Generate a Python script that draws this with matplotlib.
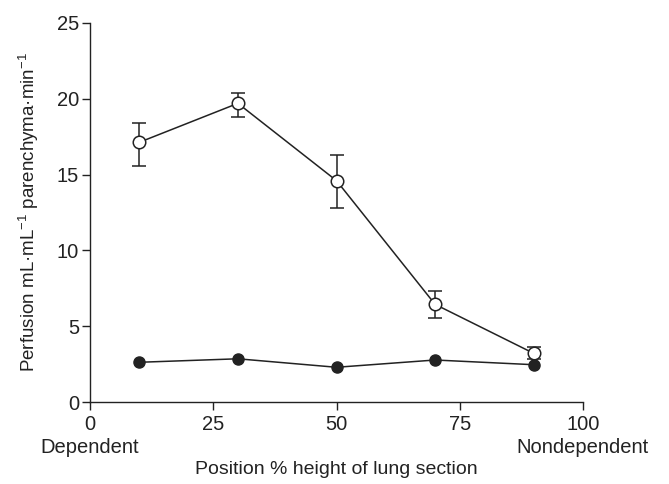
import matplotlib
matplotlib.use("Agg")
import matplotlib.pyplot as plt

plt.rcParams['font.family'] = ['Liberation Sans', 'DejaVu Sans']

x = [10, 30, 50, 70, 90]
open_vals = [17.13, 19.70, 14.60, 6.44, 3.21]
open_lo = [15.57, 18.82, 12.78, 5.52, 2.85]
open_hi = [18.42, 20.36, 16.29, 7.32, 3.60]
filled_vals = [2.62, 2.85, 2.29, 2.77, 2.46]
xticks = [0, 25, 50, 75, 100]
xticklabels = ['0\nDependent', '25', '50', '75', '100\nNondependent']
yticks = [0, 5, 10, 15, 20, 25]

fig = plt.figure(figsize=(6.69, 4.84), dpi=100)
ax = fig.add_axes([90 / 669, 82 / 484, 493 / 669, 379 / 484])

yerr = [[v - l for v, l in zip(open_vals, open_lo)], [h - v for v, h in zip(open_vals, open_hi)]]
ax.errorbar(x, open_vals, yerr=yerr, fmt='o-', color='#222222', mfc='white', mec='#222222',
            ms=9, mew=1.1, lw=1.1, capsize=5, elinewidth=1.1, capthick=1.1, zorder=3)
ax.plot(x, filled_vals, 'o-', color='#222222', ms=8, lw=1.1, zorder=4)

ax.set_xlim(0, 100)
ax.set_ylim(0, 25)
ax.set_xticks(xticks)
ax.set_xticklabels(xticklabels, linespacing=1.3)
ax.set_yticks(yticks)
ax.spines['top'].set_visible(False)
ax.spines['right'].set_visible(False)
for s in ('left', 'bottom'):
    ax.spines[s].set_linewidth(1.0)
    ax.spines[s].set_color('#222222')
ax.tick_params(labelsize=14.5, length=6, width=1.0, colors='#222222')
ax.tick_params(axis='x', pad=3)
ax.tick_params(axis='y', pad=2)
ax.set_ylabel('Perfusion mL·mL$^{\\mathregular{-1}}$ parenchyma·min$^{\\mathregular{-1}}$',
              fontsize=13.5, color='#222222', labelpad=11)
ax.set_xlabel('Position % height of lung section', fontsize=14, color='#222222', labelpad=3)

fig.savefig('out.png', dpi=100)
